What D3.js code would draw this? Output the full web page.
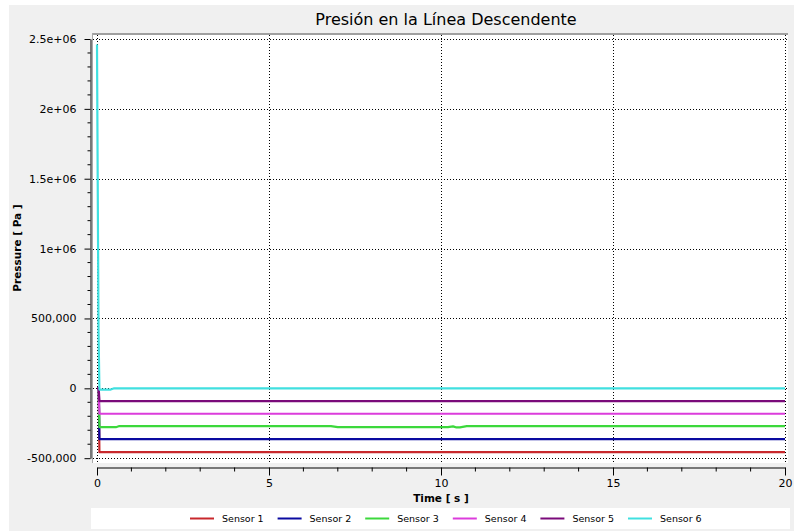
<!DOCTYPE html>
<html>
<head>
<meta charset="utf-8">
<script src="https://cdn.jsdelivr.net/npm/d3@7"></script>
<style>
  html, body { margin: 0; padding: 0; background: #ffffff; }
  svg { display: block; }
</style>
</head>
<body>
<svg id="chart" width="794" height="531"></svg>
<script>
// ---- data ----
const title = "Presión en la Línea Descendente";
const xLabel = "Time [ s ]";
const yLabel = "Pressure [ Pa ]";
const seriesNames = ["Sensor 1", "Sensor 2", "Sensor 3", "Sensor 4", "Sensor 5", "Sensor 6"];
const seriesColors = ["#c8282c", "#0a0aa0", "#3cd83c", "#dc3cdc", "#7a0a7a", "#40e0e0"];

const timeStep = [0, 0.05, 0.07, 20];
const sensor1 = [0, 0, -457000, -457000];
const sensor2 = [0, 0, -364000, -364000];
const sensor4 = [0, 0, -182000, -182000];
const sensor5 = [0, 0, -91000, -91000];

const timeSensor3 = [0, 0.05, 0.07, 0.55, 0.65, 6.8, 7.0, 10.2, 10.35, 10.45, 10.55, 10.75, 20];
const sensor3 = [0, 0, -278000, -278000, -270000, -270000, -278000, -278000, -272000, -280000, -279000, -270000, -270000];

const timeSensor6 = [0, 0.02, 0.045, 0.07, 0.4, 0.5, 20];
const sensor6 = [2460000, 1500000, 400000, -9000, -9000, 0, 0];

const xTicks = [0, 5, 10, 15, 20];
const yTicks = [-500000, 0, 500000, 1000000, 1500000, 2000000, 2500000];
const yTickLabels = ["-500,000", "0", "500,000", "1e+06", "1.5e+06", "2e+06", "2.5e+06"];

const series = [
  { t: timeStep, v: sensor1 },
  { t: timeStep, v: sensor2 },
  { t: timeSensor3, v: sensor3 },
  { t: timeStep, v: sensor4 },
  { t: timeStep, v: sensor5 },
  { t: timeSensor6, v: sensor6 }
];

// ---- drawing ----
const svg = d3.select("#chart");
const font = "'DejaVu Sans', Verdana, sans-serif";

svg.append("rect").attr("x", 9).attr("y", 5).attr("width", 785).attr("height", 526).attr("fill", "#f0f0f0");

const x = d3.scaleLinear().domain([0, 20]).range([97, 785]);
const y = d3.scaleLinear().domain([-500000, 2500000]).range([458.2, 39]);

// plot area
svg.append("rect").attr("x", 92).attr("y", 34).attr("width", 696).attr("height", 429).attr("fill", "#ffffff");
svg.append("line").attr("x1", 92).attr("x2", 788).attr("y1", 34).attr("y2", 34).attr("stroke", "#a0a0a0").attr("stroke-width", 2);
svg.append("line").attr("x1", 92.5).attr("x2", 92.5).attr("y1", 33).attr("y2", 463).attr("stroke", "#a8a8a8").attr("stroke-width", 1);

// grid
const grid = svg.append("g").attr("stroke", "#000").attr("stroke-width", 1).attr("stroke-dasharray", "1,2");
grid.selectAll("line.v").data(xTicks).enter().append("line")
  .attr("x1", d => Math.round(x(d)) + 0.5).attr("x2", d => Math.round(x(d)) + 0.5)
  .attr("y1", 35).attr("y2", 463);
grid.selectAll("line.h").data(yTicks).enter().append("line")
  .attr("y1", d => Math.round(y(d)) + 0.5).attr("y2", d => Math.round(y(d)) + 0.5)
  .attr("x1", 93).attr("x2", 788);

// series
const clip = svg.append("clipPath").attr("id", "clip").append("rect").attr("x", 93).attr("y", 35).attr("width", 695).attr("height", 428);
const line = d3.line().x(d => x(d[0])).y(d => y(d[1]));
const lines = svg.append("g").attr("clip-path", "url(#clip)");
series.forEach((s, i) => {
  const pts = s.t.map((t, j) => [t, s.v[j]]);
  lines.append("path").attr("d", line(pts)).attr("fill", "none")
    .attr("stroke", seriesColors[i]).attr("stroke-width", 2.2).attr("stroke-linejoin", "round");
});

// y axis
const yAxis = d3.axisLeft(y).tickValues(yTicks).tickSize(6).tickSizeOuter(0)
  .tickFormat((d, i) => yTickLabels[yTicks.indexOf(d)]).tickPadding(8);
const gy = svg.append("g").attr("transform", "translate(90.5,0)").call(yAxis);
const yMinor = d3.range(-500000, 2500001, 100000).filter(v => v % 500000 !== 0);
gy.selectAll("line.minor").data(yMinor).enter().append("line").attr("class", "minor")
  .attr("x1", -3).attr("x2", 0).attr("y1", d => y(d)).attr("y2", d => y(d)).attr("stroke", "#000");

// x axis
const xAxis = d3.axisBottom(x).tickValues(xTicks).tickSize(8).tickSizeOuter(0).tickPadding(4);
const gx = svg.append("g").attr("transform", "translate(0,467.5)").call(xAxis);
const xMinor = d3.range(1, 20).filter(v => v % 5 !== 0);
gx.selectAll("line.minor").data(xMinor).enter().append("line").attr("class", "minor")
  .attr("y1", 0).attr("y2", 4).attr("x1", d => x(d)).attr("x2", d => x(d)).attr("stroke", "#000");

[gx, gy].forEach(g => {
  g.select(".domain").attr("stroke", "#000");
  g.selectAll(".tick line").attr("stroke", "#000");
  g.selectAll("text").attr("font-family", font).attr("font-size", 11).attr("fill", "#000");
});

// title & labels
svg.append("text").attr("x", 446).attr("y", 25).attr("text-anchor", "middle")
  .attr("font-family", font).attr("font-size", 16).attr("fill", "#000").text(title);
svg.append("text").attr("x", 441).attr("y", 502).attr("text-anchor", "middle")
  .attr("font-family", font).attr("font-size", 10.5).attr("font-weight", "bold").attr("fill", "#000").text(xLabel);
svg.append("text").attr("transform", "translate(21,248) rotate(-90)").attr("text-anchor", "middle")
  .attr("font-family", font).attr("font-size", 10.5).attr("font-weight", "bold").attr("fill", "#000").text(yLabel);

// legend
svg.append("rect").attr("x", 91).attr("y", 508).attr("width", 699).attr("height", 21).attr("fill", "#ffffff");
const leg = svg.append("g");
seriesNames.forEach((name, i) => {
  const x0 = 190 + i * 87.6;
  leg.append("line").attr("x1", x0).attr("x2", x0 + 24).attr("y1", 518.5).attr("y2", 518.5)
    .attr("stroke", seriesColors[i]).attr("stroke-width", 2);
  leg.append("text").attr("x", x0 + 32).attr("y", 522).attr("font-family", font).attr("font-size", 9.5)
    .attr("fill", "#000").text(name);
});
</script>
</body>
</html>
